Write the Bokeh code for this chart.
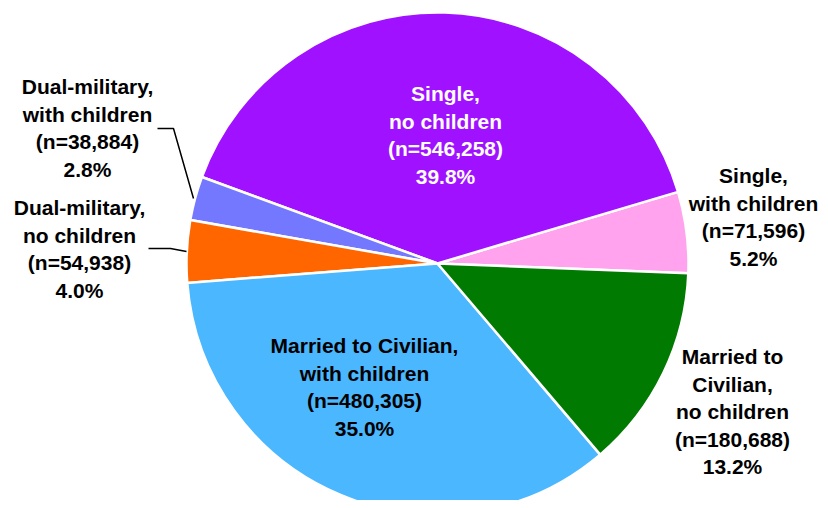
import math
from bokeh.plotting import figure
from bokeh.models import Range1d, ColumnDataSource
from bokeh.core.properties import value
from bokeh.embed import file_html
from bokeh.resources import INLINE

# ---- data (drawing order, anticlockwise) ----
categories = ["Single, with children", "Single, no children",
              "Dual-military, with children", "Dual-military, no children",
              "Married to Civilian, with children", "Married to Civilian, no children"]
counts = [71596, 546258, 38884, 54938, 480305, 180688]
label_lines = [["Single,", "with children"],
               ["Single,", "no children"],
               ["Dual-military,", "with children"],
               ["Dual-military,", "no children"],
               ["Married to Civilian,", "with children"],
               ["Married to", "Civilian,", "no children"]]

# ---- style / layout ----
colors = ["#FFA3EE", "#A012FF", "#7478FF", "#FF6600", "#4BB7FF", "#007A00"]
label_colors = ["black", "white", "black", "black", "black", "black"]
# label anchor: centre x and first baseline y, in picture pixels
label_anchor = [(753, 184), (445, 102), (87, 95), (79, 216), (364, 354), (732, 365)]
text_shift = -9
line_step = 27.5
font_px = "21px"
cx, cy, radius = 437, 263, 251
start_deg = -2.2
leaders = [([157, 173, 193], [128, 128, 198]),
           ([148, 170, 186], [248, 248, 251])]

W, H = 820, 500
p = figure(width=W, height=H, output_backend="svg", toolbar_location=None,
           x_range=Range1d(0, W), y_range=Range1d(-H, 0),
           min_border=0)
p.axis.visible = False
p.grid.visible = False
p.outline_line_color = None
p.background_fill_color = "white"

total = sum(counts)
starts, ends = [], []
a = math.radians(start_deg)
for c in counts:
    starts.append(a)
    a += 2 * math.pi * c / total
    ends.append(a)

src = ColumnDataSource(dict(start=starts, end=ends, color=colors,
                            x=[cx] * len(counts), y=[-cy] * len(counts)))
p.wedge(x="x", y="y", radius=radius, start_angle="start", end_angle="end",
        fill_color="color", line_color="white", line_width=2.5, source=src)

for xs, ys in leaders:
    p.line(xs, [-v for v in ys], line_color="black", line_width=1.5)

tx, ty, tt, tc = [], [], [], []
for i, c in enumerate(counts):
    lines = label_lines[i] + ["(n={:,})".format(c), "{:.1f}%".format(100 * c / total)]
    ax, ay = label_anchor[i]
    for j, s in enumerate(lines):
        tx.append(ax)
        ty.append(-(ay + text_shift + j * line_step))
        tt.append(s)
        tc.append(label_colors[i])

tsrc = ColumnDataSource(dict(x=tx, y=ty, text=tt, color=tc))
p.text(x="x", y="y", text="text", text_color="color", source=tsrc,
       text_align="center", text_baseline="alphabetic",
       text_font=value("Liberation Sans"), text_font_style="bold",
       text_font_size=font_px)

open("out.html", "w").write(file_html(p, INLINE))
